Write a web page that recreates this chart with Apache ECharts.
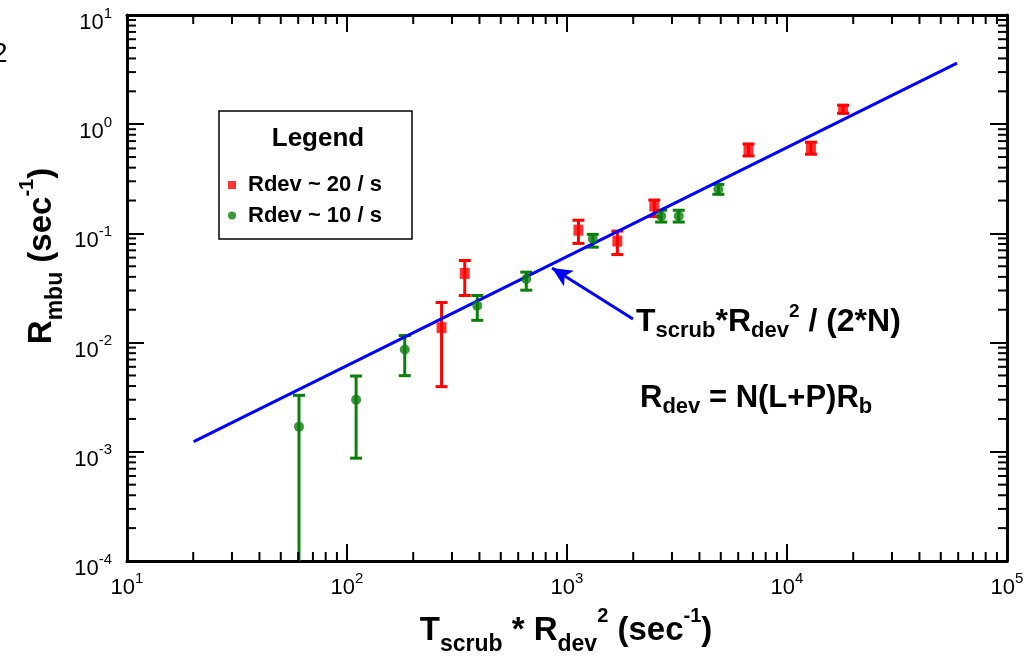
<!DOCTYPE html>
<html><head><meta charset="utf-8">
<script src="https://cdn.jsdelivr.net/npm/echarts@6/dist/echarts.min.js"></script>
<style>html,body{margin:0;padding:0;background:#fff}#c{width:1031px;height:658px}</style>
</head><body><div id="c"></div>
<script>
// ---- data ----
const xTickExponents = [1, 2, 3, 4, 5];
const yTickExponents = [-4, -3, -2, -1, 0, 1];
const minorSteps = [2, 3, 4, 5, 6, 7, 8, 9];

const rdev20X  = [269, 343, 1127, 1694, 2494, 6686, 12850, 17990];
const rdev20Y  = [0.0137, 0.043, 0.107, 0.085, 0.178, 0.581, 0.603, 1.37];
const rdev20Lo = [0.00395, 0.027, 0.081, 0.064, 0.143, 0.512, 0.531, 1.26];
const rdev20Hi = [0.0233, 0.0565, 0.132, 0.105, 0.202, 0.659, 0.684, 1.49];

const rdev10X  = [60.5, 110, 183, 391, 653, 1309, 2679, 3220, 4875];
const rdev10Y  = [0.0017, 0.0030, 0.00863, 0.0218, 0.0383, 0.0893, 0.144, 0.144, 0.2535];
const rdev10Lo = [0.0001, 0.000875, 0.00498, 0.016, 0.0302, 0.0748, 0.127, 0.127, 0.228];
const rdev10Hi = [0.00329, 0.00494, 0.0116, 0.027, 0.0442, 0.098, 0.163, 0.163, 0.281];

const fitX = [20.1, 59300];
const fitY = [0.00124, 3.63];

const arrowFrom = [1995, 0.01645];
const arrowTo   = [855, 0.0482];

// ---- helpers ----
const X_MIN = Math.pow(10, xTickExponents[0]), X_MAX = Math.pow(10, xTickExponents[xTickExponents.length-1]);
const Y_MIN = Math.pow(10, yTickExponents[0]), Y_MAX = Math.pow(10, yTickExponents[yTickExponents.length-1]);
const xMinor = [], yMinor = [];
xTickExponents.slice(0, -1).forEach(e => minorSteps.forEach(s => xMinor.push([s * Math.pow(10, e), Y_MIN])));
yTickExponents.slice(0, -1).forEach(e => minorSteps.forEach(s => yMinor.push([X_MIN, s * Math.pow(10, e)])));

const FONT = 'Liberation Sans, Arial, sans-serif';
const RED = '#ff0000', GREEN = '#0a800a', BLUE = '#0000ff', PURPLE = '#4a1248';

const tickRich = {
  b: {fontSize: 22, lineHeight: 28, verticalAlign: 'bottom', fontFamily: FONT, color: '#000'},
  s: {fontSize: 15, lineHeight: 15, verticalAlign: 'top', fontFamily: FONT, color: '#000'}
};
function tickFmt(v) {
  const e = Math.round(Math.log10(v));
  return '{b|10}{s|' + e + '}';
}

function errRenderer(color) {
  return function (params, api) {
    const x = api.value(0), lo = api.value(1), hi = api.value(2);
    const t = api.coord([x, hi]), b = api.coord([x, lo]);
    const cw = 6;
    const st = {stroke: color, lineWidth: 3};
    const ch = [
      {type: 'line', shape: {x1: t[0], y1: t[1], x2: b[0], y2: b[1]}, style: st},
      {type: 'line', shape: {x1: t[0]-cw, y1: t[1], x2: t[0]+cw, y2: t[1]}, style: st}
    ];
    if (lo > Y_MIN) ch.push({type: 'line', shape: {x1: b[0]-cw, y1: b[1], x2: b[0]+cw, y2: b[1]}, style: st});
    return {type: 'group', children: ch};
  };
}
function xMinorRender(params, api) {
  const cs = params.coordSys;
  const px = api.coord([api.value(0), Y_MIN])[0];
  const st = {stroke: '#000', lineWidth: 2};
  const yb = cs.y + cs.height, yt = cs.y;
  return {type: 'group', children: [
    {type: 'line', shape: {x1: px, y1: yb, x2: px, y2: yb - 9}, style: st},
    {type: 'line', shape: {x1: px, y1: yt, x2: px, y2: yt + 9}, style: st}
  ]};
}
function yMinorRender(params, api) {
  const cs = params.coordSys;
  const py = api.coord([X_MIN, api.value(1)])[1];
  const st = {stroke: '#000', lineWidth: 2};
  const xl = cs.x, xr = cs.x + cs.width;
  return {type: 'group', children: [
    {type: 'line', shape: {x1: xl, y1: py, x2: xl + 9, y2: py}, style: st},
    {type: 'line', shape: {x1: xr, y1: py, x2: xr - 9, y2: py}, style: st}
  ]};
}

function axisBase(extra) {
  return Object.assign({
    type: 'log', logBase: 10,
    axisLine: {show: true, onZero: false, lineStyle: {color: '#000', width: 3}},
    axisTick: {show: true, inside: true, length: 17, lineStyle: {color: '#000', width: 2}},
    splitLine: {show: false},
    minorTick: {show: false}, minorSplitLine: {show: false}
  }, extra);
}

const nameRich = (size, color) => ({
  m: {fontSize: size, fontWeight: 'bold', fontFamily: FONT, color: color, lineHeight: 50, verticalAlign: 'middle'},
  sub: {fontSize: Math.round(size*0.7), fontWeight: 'bold', fontFamily: FONT, color: color, lineHeight: 23, verticalAlign: 'bottom'},
  sup: {fontSize: Math.round(size*0.62), fontWeight: 'bold', fontFamily: FONT, color: color, lineHeight: 23, verticalAlign: 'top'}
});
const annRich = (size) => ({
  m: {fontSize: size, fontWeight: 'bold', fontFamily: FONT, color: BLUE, lineHeight: 40, verticalAlign: 'middle'},
  sub: {fontSize: 22, fontWeight: 'bold', fontFamily: FONT, color: BLUE, lineHeight: 22, verticalAlign: 'bottom'},
  sup: {fontSize: 19, fontWeight: 'bold', fontFamily: FONT, color: BLUE, lineHeight: 19, verticalAlign: 'top'}
});

const chart = echarts.init(document.getElementById('c'), null, {renderer: 'canvas'});
chart.setOption({
  animation: false,
  backgroundColor: '#fff',
  grid: {left: 127, right: 24, top: 15, bottom: 97, containLabel: false},
  xAxis: [
    axisBase({min: X_MIN, max: X_MAX, position: 'bottom',
      axisLabel: {show: true, margin: 10, formatter: tickFmt, rich: tickRich}}),
    axisBase({min: X_MIN, max: X_MAX, position: 'top', axisLabel: {show: false}})
  ],
  yAxis: [
    axisBase({min: Y_MIN, max: Y_MAX, position: 'left',
      axisLabel: {show: true, margin: 15, padding: [10, 0, 0, 0], formatter: tickFmt, rich: tickRich}}),
    axisBase({min: Y_MIN, max: Y_MAX, position: 'right', axisLabel: {show: false}})
  ],
  legend: {
    left: 223, top: 169, orient: 'vertical', itemGap: 8.5,
    itemWidth: 8, itemHeight: 8,
    textStyle: {fontSize: 22, fontWeight: 'bold', fontFamily: FONT, color: '#000', padding: [0, 0, 0, 7]},
    data: [{name: 'Rdev ~ 20 / s', icon: 'rect'}, {name: 'Rdev ~ 10 / s', icon: 'circle'}]
  },
  graphic: [
    {type: 'rect', shape: {x: 219, y: 111, width: 193, height: 128}, style: {fill: 'none', stroke: '#000', lineWidth: 1.5}, z: 1},
    {type: 'text', style: {x: 318, y: 139, text: 'Legend', align: 'center', verticalAlign: 'middle',
      font: 'bold 26px ' + FONT, fill: '#000'}},
    {type: 'text', style: {x: 636, y: 322, align: 'left', verticalAlign: 'middle',
      text: '{m|T}{sub|scrub}{m|*R}{sub|dev}{sup|2}{m| / (2*N)}', rich: annRich(32)}},
    {type: 'text', style: {x: 640, y: 398, align: 'left', verticalAlign: 'middle',
      text: '{m|R}{sub|dev}{m| = N(L+P)R}{sub|b}', rich: annRich(31)}},
    {type: 'text', style: {x: 566, y: 631, align: 'center', verticalAlign: 'middle',
      text: '{m|T}{sub|scrub}{m| * R}{sub|dev}{sup|2}{m| (sec}{sup|-1}{m|)}', rich: nameRich(33, PURPLE)}},
    {type: 'text', x: 42, y: 256, rotation: Math.PI / 2, style: {x: 0, y: 0, align: 'center', verticalAlign: 'middle',
      text: '{m|R}{sub|mbu}{m| (sec}{sup|-1}{m|)}', rich: nameRich(33, PURPLE)}},
    {type: 'text', style: {x: -8, y: 40, text: '2', font: '28px ' + FONT, fill: '#000'}}
  ],
  series: [
    {type: 'custom', name: 'xminor', renderItem: xMinorRender, data: xMinor, encode: {x: 0, y: 1}, silent: true, z: 5},
    {type: 'custom', name: 'yminor', renderItem: yMinorRender, data: yMinor, encode: {x: 0, y: 1}, silent: true, z: 5},
    {type: 'line', name: 'fit', data: fitX.map((x, i) => [x, fitY[i]]), symbol: 'none',
      lineStyle: {color: BLUE, width: 3}, z: 3, silent: true,
      markLine: {silent: true, symbol: ['none', 'arrow'], symbolSize: [14, 20],
        lineStyle: {color: BLUE, width: 3, type: 'solid'}, label: {show: false},
        data: [[{coord: arrowFrom}, {coord: arrowTo}]]}},
    {type: 'custom', name: 'err20', renderItem: errRenderer(RED),
      data: rdev20X.map((x, i) => [x, rdev20Lo[i], rdev20Hi[i]]), encode: {x: 0, y: [1, 2]}, z: 2, silent: true},
    {type: 'custom', name: 'err10', renderItem: errRenderer(GREEN),
      data: rdev10X.map((x, i) => [x, rdev10Lo[i], rdev10Hi[i]]), encode: {x: 0, y: [1, 2]}, z: 2, silent: true},
    {type: 'scatter', name: 'Rdev ~ 20 / s', symbol: 'rect', symbolSize: [10, 11],
      itemStyle: {color: RED}, data: rdev20X.map((x, i) => [x, rdev20Y[i]]), z: 4},
    {type: 'scatter', name: 'Rdev ~ 10 / s', symbol: 'circle', symbolSize: 10,
      itemStyle: {color: GREEN}, data: rdev10X.map((x, i) => [x, rdev10Y[i]]), z: 4}
  ]
});
</script></body></html>
